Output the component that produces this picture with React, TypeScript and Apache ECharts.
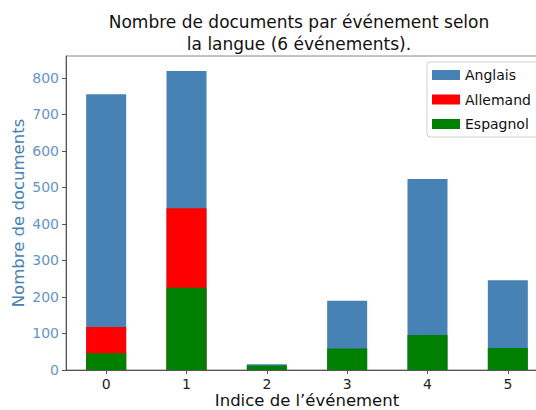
import React, { useEffect, useRef } from "react";
import * as echarts from "echarts";

const categories = ["0", "1", "2", "3", "4", "5"];
const anglais = [755, 819, 16, 190, 523, 246];
const allemand = [118, 443, 0, 0, 0, 0];
const espagnol = [46, 225, 12, 59, 96, 60];
const yTicks = [0, 100, 200, 300, 400, 500, 600, 700, 800];

const FONT = "DejaVu Sans";

export default function App() {
  const ref = useRef<HTMLDivElement>(null);
  useEffect(() => {
    if (!ref.current) return;
    const chart = echarts.init(ref.current, undefined, { renderer: "svg" });
    const barBase = {
      type: "bar" as const,
      barWidth: 40,
      barGap: "-100%",
    };
    chart.setOption({
      animation: false,
      textStyle: { fontFamily: FONT },
      graphic: [
        {
          type: "text",
          x: 299,
          y: 33,
          style: {
            text: "Nombre de documents par événement selon\nla langue (6 événements).",
            font: `17px ${FONT}`,
            fill: "#111",
            align: "center",
            verticalAlign: "middle",
            lineHeight: 22,
          },
        },
      ],
      legend: {
        orient: "vertical",
        left: 427,
        top: 62,
        itemWidth: 28,
        itemHeight: 10,
        itemGap: 10.5,
        padding: [6, 8, 6, 5],
        borderColor: "#d0d0d0",
        borderWidth: 1,
        borderRadius: 3,
        backgroundColor: "#fff",
        icon: "rect",
        textStyle: { fontFamily: FONT, fontSize: 14, color: "#111" },
        data: ["Anglais", "Allemand", "Espagnol"],
      },
      grid: {
        left: 66,
        top: 56,
        width: 482,
        height: 314,
        show: true,
        borderColor: "#888",
        borderWidth: 1,
        containLabel: false,
        outerBoundsMode: "none",
      },
      xAxis: {
        type: "category",
        data: categories,
        name: "Indice de l\u2019événement",
        nameLocation: "middle",
        nameGap: 22,
        nameMoveOverlap: false,
        nameTextStyle: { fontFamily: FONT, fontSize: 16.5, color: "#111", lineHeight: 17 },
        axisLine: { show: true, lineStyle: { color: "#555" } },
        axisTick: { show: true, alignWithLabel: true, length: 4, lineStyle: { color: "#555" } },
        axisLabel: { fontFamily: FONT, fontSize: 14, color: "#222", margin: 7 },
        splitLine: { show: false },
      },
      yAxis: {
        type: "value",
        min: 0,
        max: 860,
        interval: 100,
        name: "Nombre de documents",
        nameLocation: "middle",
        nameGap: 39,
        nameMoveOverlap: false,
        nameTextStyle: { fontFamily: FONT, fontSize: 16.5, color: "#4682b4" },
        axisLine: { show: true, lineStyle: { color: "#555" } },
        axisTick: { show: true, length: 4, lineStyle: { color: "#555" }, customValues: yTicks },
        axisLabel: { fontFamily: FONT, fontSize: 14, color: "#6495c8", margin: 7, customValues: yTicks },
        splitLine: { show: false },
      },
      series: [
        { ...barBase, name: "Anglais", data: anglais, itemStyle: { color: "#4682b4" } },
        { ...barBase, name: "Allemand", data: allemand, itemStyle: { color: "#ff0000" } },
        { ...barBase, name: "Espagnol", data: espagnol, itemStyle: { color: "#008000" } },
      ],
    });
    return () => chart.dispose();
  }, []);
  return (
    <div
      ref={ref}
      style={{ position: "fixed", left: 0, top: 0, width: 536, height: 410, background: "#fff" }}
    />
  );
}
